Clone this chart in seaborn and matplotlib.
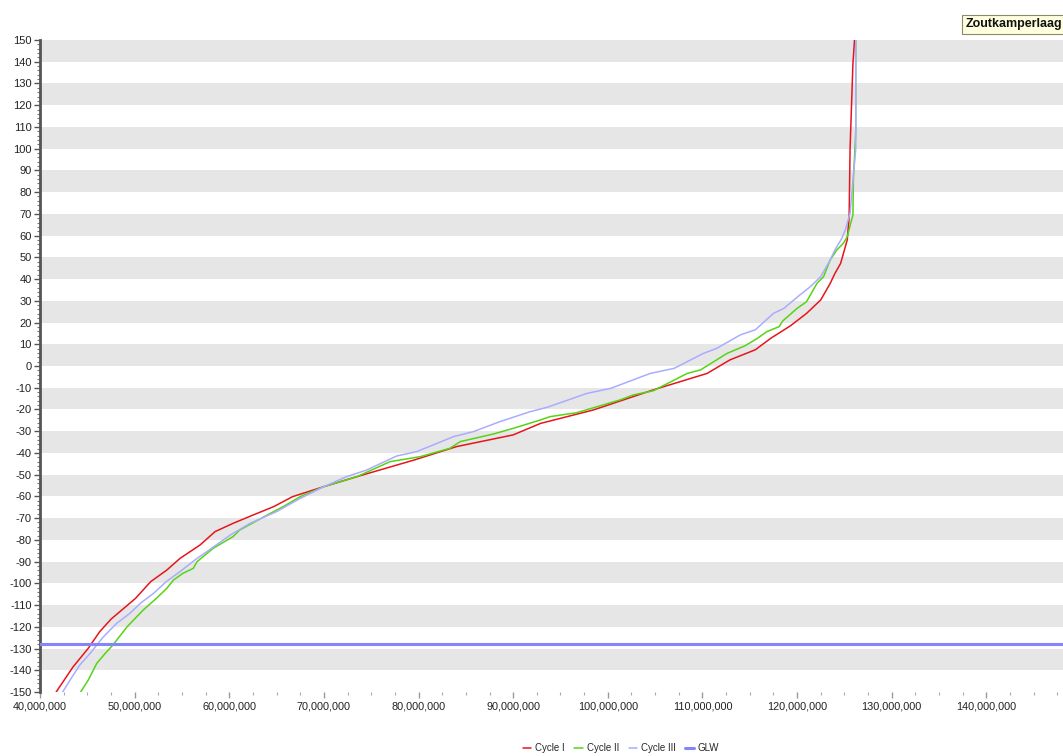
import numpy as np
import pandas as pd
import matplotlib
matplotlib.use("Agg")
import matplotlib.pyplot as plt
from matplotlib.ticker import FuncFormatter, MultipleLocator
from matplotlib.lines import Line2D
import seaborn as sns

# Cumulative volume (millions) against level for each cycle
volume_cycle1 = [41.4, 43.5, 45.1, 46.3, 47.5, 50.1, 51.7, 53.4, 54.8, 56.9,
                 58.5, 60.4, 62.5, 64.7, 66.7, 70.0, 73.5, 79.5, 84.0, 90.0,
                 92.9, 98.5, 104.8, 110.5, 112.9, 115.6, 117.2, 119.3, 121.0, 122.5,
                 123.5, 124.0, 124.6, 125.3, 125.5, 125.6, 125.9, 126.1]
level_cycle1 = [-152, -138.4, -129.9, -122.3, -116.5, -106.9, -99.2, -93.9, -88.5, -82.4,
                -76.2, -72.4, -68.6, -64.7, -60.1, -55.5, -50.9, -43.3, -37.1, -31.7,
                -26.4, -20.2, -11.0, -3.4, 2.8, 7.5, 12.7, 18.5, 24.2, 30.4,
                38.0, 42.6, 47.2, 58.0, 68.5, 100, 139, 152]

volume_cycle2 = [44.0, 45.1, 46.0, 46.9, 47.7, 49.2, 50.9, 52.3, 53.4, 54.1,
                 55.1, 56.2, 56.6, 58.3, 60.4, 61.1, 64.0, 65.7, 67.5, 70.0,
                 73.5, 77.0, 80.2, 83.3, 84.4, 87.9, 90.0, 92.9, 93.9, 96.7,
                 101.3, 102.7, 104.8, 108.4, 109.8, 112.6, 114.5, 115.8, 116.8, 118.1,
                 118.5, 120.0, 121.0, 122.1, 122.8, 123.5, 124.2, 124.9, 125.3, 125.9,
                 125.95, 126.2, 126.2]
level_cycle2 = [-152, -144.5, -136.8, -132.2, -128.4, -120.0, -112.3, -106.9, -102.3, -98.5,
                -95.4, -93.1, -90.0, -83.9, -78.5, -75.5, -68.6, -64.7, -60.1, -55.5,
                -50.9, -44.0, -41.7, -37.9, -34.8, -31.3, -28.7, -24.8, -23.3, -21.5,
                -15.6, -13.3, -11.4, -3.4, -1.8, 5.8, 9.3, 12.7, 15.8, 18.1,
                20.8, 26.5, 29.6, 38.0, 41.1, 48.8, 53.4, 56.5, 59.5, 69.5,
                85.6, 108, 152]

volume_cycle3 = [42.1, 43.4, 44.2, 45.3, 46.7, 48.1, 49.5, 50.6, 52.0, 53.4,
                 54.8, 56.6, 57.6, 60.1, 62.2, 65.0, 67.5, 70.0, 72.4, 74.5,
                 77.7, 79.8, 83.7, 85.8, 88.6, 91.8, 93.6, 97.8, 100.3, 104.5,
                 107.0, 110.1, 111.5, 114.0, 115.6, 117.5, 118.6, 120.3, 121.4, 122.5,
                 123.5, 124.0, 124.7, 125.1, 125.6, 126.2, 126.2]
level_cycle3 = [-152, -143.0, -137.6, -132.2, -124.6, -118.4, -113.8, -109.2, -104.6, -99.0,
                -94.6, -88.5, -85.5, -77.8, -72.4, -67.0, -60.9, -55.5, -50.9, -47.9,
                -41.4, -39.4, -32.5, -30.2, -25.6, -21.0, -19.0, -12.6, -10.3, -3.4,
                -1.1, 5.8, 8.1, 14.3, 16.7, 24.2, 26.5, 32.7, 36.5, 41.1,
                48.8, 53.4, 58.5, 62.6, 70.3, 100, 152]

glw_level = -128

series_names = ["Cycle I", "Cycle II", "Cycle III"]
series_colors = {"Cycle I": "#e8141c", "Cycle II": "#55d414", "Cycle III": "#a9acff"}
glw_color = "#8585fa"

frames = []
for name, xs, ys in zip(series_names,
                        [volume_cycle1, volume_cycle2, volume_cycle3],
                        [level_cycle1, level_cycle2, level_cycle3]):
    frames.append(pd.DataFrame({"volume": np.asarray(xs) * 1e6,
                                "level": ys,
                                "series": name}))
df = pd.concat(frames, ignore_index=True)

sns.set_style("white")
plt.rcParams["font.family"] = ["Liberation Sans", "DejaVu Sans"]
plt.rcParams["axes.unicode_minus"] = False

W, H = 1063, 756
fig = plt.figure(figsize=(W / 100, H / 100), dpi=100)
ax = fig.add_axes([40 / W, 1 - 692 / H, 1 - 40 / W, (692 - 40) / H])

# alternating horizontal bands
for lo in range(-140, 150, 20):
    ax.axhspan(lo, lo + 10, color="#e6e6e6", lw=0, zorder=0)

sns.lineplot(data=df, x="volume", y="level", hue="series", hue_order=series_names,
             palette=series_colors, sort=False, estimator=None, lw=1.1,
             ax=ax, legend=False, zorder=2)
ax.axhline(glw_level, color=glw_color, lw=2.2, zorder=3)

ax.set_xlim(40e6, 148.1e6)
ax.set_ylim(-150, 150)
ax.set_xlabel("")
ax.set_ylabel("")

ax.xaxis.set_major_locator(MultipleLocator(10e6))
ax.xaxis.set_minor_locator(MultipleLocator(2.5e6))
ax.xaxis.set_major_formatter(FuncFormatter(lambda v, p: f"{int(round(v)):,}"))
ax.yaxis.set_major_locator(MultipleLocator(10))
ax.yaxis.set_minor_locator(MultipleLocator(2))

for side in ("top", "right", "bottom"):
    ax.spines[side].set_visible(False)
ax.spines["left"].set_color("#555555")
ax.spines["left"].set_linewidth(2)

ax.tick_params(axis="y", which="major", direction="out", length=4, width=1,
               color="#555555", labelsize=8, labelcolor="#222222", pad=2, left=True)
ax.tick_params(axis="y", which="minor", direction="out", length=2, width=0.8,
               color="#777777", left=True)
ax.tick_params(axis="x", which="major", direction="out", length=4, width=1,
               color="#999999", labelsize=7.8, labelcolor="#222222", pad=3, bottom=True)
ax.tick_params(axis="x", which="minor", direction="out", length=2, width=0.8,
               color="#aaaaaa", bottom=True)

# legend below the plot
handles = [Line2D([], [], color=series_colors[n], lw=1.1) for n in series_names]
handles.append(Line2D([], [], color=glw_color, lw=2.2))
fig.legend(handles, series_names + ["GLW"], loc="center",
           bbox_to_anchor=(621 / W, 1 - 748 / H), ncol=4, frameon=False,
           fontsize=7, handlelength=0.85, handletextpad=0.4, columnspacing=1.0)

# title tag in the top right corner
fig.text(966 / W, 1 - 24.5 / H, "Zoutkamperlaag", ha="left", va="center",
         fontsize=9, fontweight="bold", color="#111111",
         bbox=dict(boxstyle="square,pad=0.3", facecolor="#ffffdf",
                   edgecolor="#8a8a6a", linewidth=0.8))

fig.savefig("out.png", dpi=100)
